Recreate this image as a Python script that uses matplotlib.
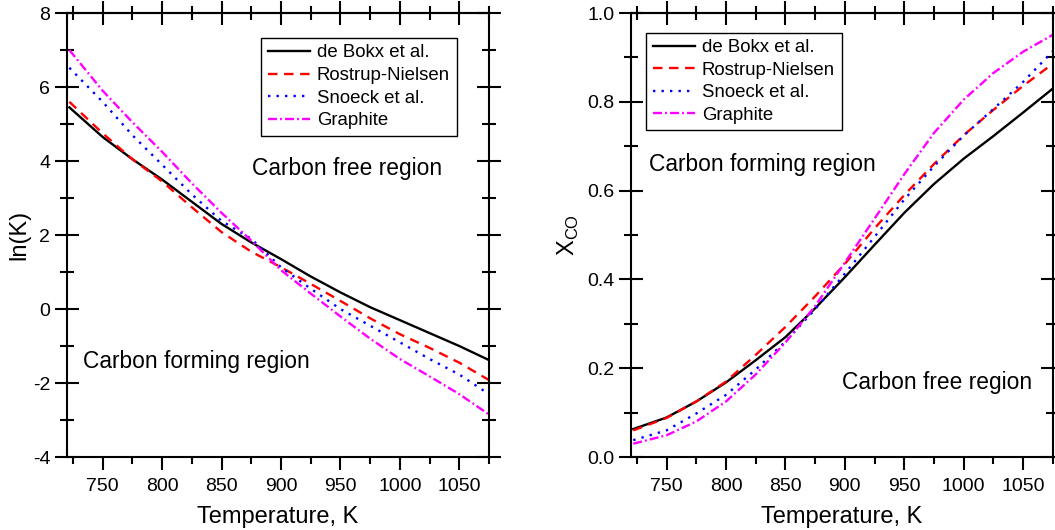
import matplotlib
matplotlib.use("Agg")
from matplotlib import pyplot as plt
from matplotlib.ticker import MultipleLocator, FormatStrFormatter

plt.rcParams['font.family'] = ['Liberation Sans', 'DejaVu Sans']
plt.rcParams['axes.unicode_minus'] = False
plt.rcParams['mathtext.fontset'] = 'custom'
plt.rcParams['mathtext.rm'] = 'Liberation Sans'

# temperatures, K
T = [722, 750, 775, 800, 825, 850, 875, 900, 925, 950, 975, 1000, 1025, 1050, 1075]

# ln(K)
lnk_bokx = [5.45, 4.65, 4.05, 3.5, 2.9, 2.3, 1.8, 1.35, 0.88, 0.45, 0.05, -0.3, -0.65, -1.0, -1.38]
lnk_rostrup = [5.6, 4.75, 4.05, 3.45, 2.75, 2.08, 1.55, 1.13, 0.68, 0.22, -0.25, -0.68, -1.05, -1.45, -1.92]
lnk_snoeck = [6.52, 5.6, 4.7, 3.9, 3.1, 2.38, 1.9, 1.13, 0.55, 0.0, -0.45, -0.9, -1.35, -1.77, -2.3]
lnk_graphite = [7.0, 5.9, 5.05, 4.25, 3.4, 2.6, 1.85, 1.05, 0.42, -0.2, -0.8, -1.35, -1.82, -2.3, -2.85]

# X_CO
x_bokx = [0.063, 0.089, 0.125, 0.168, 0.218, 0.27, 0.335, 0.405, 0.478, 0.55, 0.615, 0.672, 0.723, 0.776, 0.83]
x_rostrup = [0.06, 0.088, 0.125, 0.17, 0.23, 0.293, 0.362, 0.435, 0.515, 0.59, 0.66, 0.725, 0.782, 0.836, 0.886]
x_snoeck = [0.038, 0.06, 0.098, 0.14, 0.197, 0.26, 0.333, 0.413, 0.496, 0.58, 0.655, 0.724, 0.784, 0.845, 0.914]
x_graphite = [0.03, 0.049, 0.08, 0.125, 0.186, 0.258, 0.34, 0.438, 0.537, 0.637, 0.73, 0.805, 0.865, 0.913, 0.951]

labels = ["de Bokx et al.", "Rostrup-Nielsen", "Snoeck et al.", "Graphite"]
styles = [
    dict(color="black", ls="-"),
    dict(color="red", ls=(0, (4, 2.8))),
    dict(color="blue", ls=(0, (1, 2.6))),
    dict(color="magenta", ls=(0, (3.8, 1.3, 0.8, 1.3))),
]

fig = plt.figure(figsize=(10.55, 5.3), dpi=100)
ax1 = fig.add_axes([0.0635, 0.1377, 0.4, 0.8377])
ax2 = fig.add_axes([0.598, 0.1377, 0.4, 0.8377])


def style_axes(ax):
    ax.set_xlim(720, 1075)
    ax.xaxis.set_major_locator(MultipleLocator(50))
    ax.xaxis.set_minor_locator(MultipleLocator(25))
    for s in ax.spines.values():
        s.set_linewidth(1.5)
    ax.tick_params(axis='x', which='both', direction='out', bottom=True, top=False,
                   labelsize=14, width=1.5, pad=6)
    ax.tick_params(axis='x', which='major', length=9)
    ax.tick_params(axis='x', which='minor', length=5)
    ax.tick_params(axis='y', which='both', direction='inout', left=True, right=True,
                   labelsize=14, width=1.5)
    ax.tick_params(axis='y', which='major', length=17)
    ax.tick_params(axis='y', which='minor', length=10)
    # top ticks cross the spine
    top = ax.secondary_xaxis('top')
    top.xaxis.set_major_locator(MultipleLocator(50))
    top.xaxis.set_minor_locator(MultipleLocator(25))
    top.tick_params(which='both', direction='inout', labeltop=False, width=1.5)
    top.tick_params(which='major', length=17)
    top.tick_params(which='minor', length=10)
    top.spines['top'].set_linewidth(1.5)
    ax.set_xlabel("Temperature, K", fontsize=17, labelpad=8)


for y, lab, st in zip([lnk_bokx, lnk_rostrup, lnk_snoeck, lnk_graphite], labels, styles):
    ax1.plot(T, y, lw=1.7, label=lab, **st)
for y, lab, st in zip([x_bokx, x_rostrup, x_snoeck, x_graphite], labels, styles):
    ax2.plot(T, y, lw=1.7, label=lab, **st)

style_axes(ax1)
ax1.set_ylim(-4, 8)
ax1.yaxis.set_major_locator(MultipleLocator(2))
ax1.yaxis.set_minor_locator(MultipleLocator(1))
ax1.set_ylabel("ln(K)", fontsize=17, labelpad=2)
ax1.text(876, 3.81, "Carbon free region", fontsize=16.4, va='center')
ax1.text(733.5, -1.42, "Carbon forming region", fontsize=16.4, va='center')

style_axes(ax2)
ax2.set_ylim(0, 1.0)
ax2.yaxis.set_major_locator(MultipleLocator(0.2))
ax2.yaxis.set_minor_locator(MultipleLocator(0.1))
ax2.yaxis.set_major_formatter(FormatStrFormatter('%.1f'))
ax2.set_ylabel("X$_{\\rm CO}$", fontsize=17, labelpad=4)
ax2.text(735, 0.658, "Carbon forming region", fontsize=16.4, va='center')
ax2.text(898, 0.168, "Carbon free region", fontsize=16.4, va='center')

for ax, loc in [(ax1, (0.46, 0.944)), (ax2, (0.036, 0.956))]:
    leg = ax.legend(loc='upper left', bbox_to_anchor=loc, fontsize=13.4, handlelength=2.3,
                    fancybox=False, framealpha=1, edgecolor='black', borderpad=0.35,
                    labelspacing=0.3, handletextpad=0.35, borderaxespad=0)
    leg.get_frame().set_linewidth(1.0)

fig.savefig("out.png", dpi=100)
